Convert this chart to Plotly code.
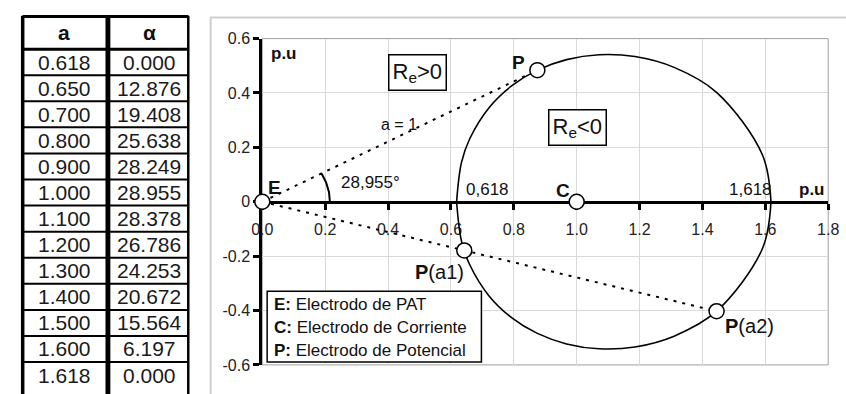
import numpy as np
import plotly.graph_objects as go

# ---- data: potential-electrode locus (a in p.u., alpha in degrees) ----
a_vals = [0.618, 0.650, 0.700, 0.800, 0.900, 1.000, 1.100, 1.200,
          1.300, 1.400, 1.500, 1.600, 1.618]
alpha_deg = [0.000, 12.876, 19.408, 25.638, 28.249, 28.955, 28.378,
             26.786, 24.253, 20.672, 15.564, 6.197, 0.000]
table_headers = ["a", "α"]

# special electrode positions
E_point = (0.0, 0.0)
C_point = (1.0, 0.0)
P_a, P_alpha = 1.000, 28.955          # P on the a = 1 ray
Pa2_a, Pa2_alpha = 1.500, -15.564     # P(a2)
Pa1_a, Pa1_alpha = 0.667, -15.564     # P(a1), same ray as P(a2)

x_tickvals = [0.0, 0.2, 0.4, 0.6, 0.8, 1.0, 1.2, 1.4, 1.6, 1.8]
x_ticktext = ["0.0", "0.2", "0.4", "0.6", "0.8", "1.0", "1.2", "1.4", "1.6", "1.8"]
y_tickvals = [-0.6, -0.4, -0.2, 0.0, 0.2, 0.4, 0.6]
y_ticktext = ["-0.6", "-0.4", "-0.2", "0", "0.2", "0.4", "0.6"]

FONT = "Arial, Liberation Sans, sans-serif"
W, H = 846, 394


def polar(a, deg):
    t = np.radians(deg)
    return a * np.cos(t), a * np.sin(t)


def pxx(x):  # pixel -> paper x
    return x / W


def pxy(y):  # pixel (from top) -> paper y
    return 1 - y / H


ux, uy = polar(np.array(a_vals), np.array(alpha_deg))
px_, py_ = polar(P_a, P_alpha)
p2x, p2y = polar(Pa2_a, Pa2_alpha)
p1x, p1y = polar(Pa1_a, Pa1_alpha)

fig = go.Figure()

# ---- locus curve (upper and mirrored lower half) ----
fig.add_trace(go.Scatter(x=ux, y=uy, mode="lines",
                         line=dict(color="black", width=1.6, shape="spline"),
                         hoverinfo="skip"))
fig.add_trace(go.Scatter(x=ux, y=-uy, mode="lines",
                         line=dict(color="black", width=1.6, shape="spline"),
                         hoverinfo="skip"))

# ---- dotted rays from E ----
dot = dict(color="black", width=2, dash="3px,6px")
fig.add_trace(go.Scatter(x=[E_point[0], px_], y=[E_point[1], py_], mode="lines",
                         line=dot, hoverinfo="skip"))
fig.add_trace(go.Scatter(x=[E_point[0], p2x], y=[E_point[1], p2y], mode="lines",
                         line=dot, hoverinfo="skip"))

# ---- angle arc for alpha at a = 1 ----
t = np.radians(np.linspace(0, P_alpha, 30))
r_arc = 0.215
fig.add_trace(go.Scatter(x=r_arc * np.cos(t), y=r_arc * np.sin(t), mode="lines",
                         line=dict(color="black", width=2), hoverinfo="skip"))

# ---- electrode markers ----
fig.add_trace(go.Scatter(
    x=[E_point[0], C_point[0], px_, p1x, p2x],
    y=[E_point[1], C_point[1], py_, p1y, p2y],
    mode="markers", cliponaxis=False,
    marker=dict(size=15, color="white", line=dict(color="black", width=1.5)),
    hoverinfo="skip"))

# ---- text annotations on the chart ----
ann = []
shapes = []


def txt(x, y, text, size=16, xanchor="center", yanchor="middle", **kw):
    ann.append(dict(x=x, y=y, xref="x", yref="y", text=text, showarrow=False,
                    xanchor=xanchor, yanchor=yanchor,
                    font=dict(family=FONT, size=size, color="#111"), **kw))


txt(0.02, 0.547, "<b>p.u</b>", size=17, xanchor="left")
txt(0.013, 0.051, "<b>E</b>", size=19, xanchor="left")
txt(0.243, 0.069, "28,955°", size=17, xanchor="left")
txt(0.372, 0.283, "a = 1", size=16, xanchor="left")
txt(0.843, 0.512, "<b>P</b>", size=19, xanchor="right")
txt(0.641, 0.044, "0,618", size=17, xanchor="left")
txt(0.928, 0.042, "<b>C</b>", size=19, xanchor="left")
txt(1.477, 0.044, "1,618", size=17, xanchor="left")
txt(1.700, 0.044, "<b>p.u</b>", size=17, xanchor="left")
txt(0.649, -0.259, "<b>P</b>(a1)", size=20, xanchor="right")
txt(1.466, -0.456, "<b>P</b>(a2)", size=20, xanchor="left")
txt(0.494, 0.477, "R<sub>e</sub>>0", size=22, bgcolor="white",
    bordercolor="black", borderwidth=1.5, borderpad=3)
txt(1.004, 0.273, "R<sub>e</sub><0", size=22, bgcolor="white",
    bordercolor="black", borderwidth=1.5, borderpad=3)

legend_lines = ["<b>E:</b> Electrodo de PAT",
                "<b>C:</b> Electrodo de Corriente",
                "<b>P:</b> Electrodo de Potencial"]
legend_y = [-0.378, -0.463, -0.547]
for s, yy in zip(legend_lines, legend_y):
    txt(0.031, yy, s, size=17, xanchor="left")

# ---- a / alpha table drawn as a text grid ----
TBL_LEFT, TBL_DIV0, TBL_DIV1, TBL_RIGHT = 12, 97, 102, 182
TBL_TOP, HEAD_BOTTOM, ROW_H = 9, 43, 27.25
col_centers = [(TBL_LEFT + TBL_DIV0) / 2, (TBL_DIV1 + TBL_RIGHT) / 2]
columns = [[f"{v:.3f}" for v in a_vals], [f"{v:.3f}" for v in alpha_deg]]

for cx, head, col in zip(col_centers, table_headers, columns):
    ann.append(dict(x=pxx(cx), y=pxy((TBL_TOP + HEAD_BOTTOM) / 2), xref="paper",
                    yref="paper", text=f"<b>{head}</b>", showarrow=False,
                    xanchor="center", yanchor="middle",
                    font=dict(family=FONT, size=21, color="#111")))
    for i, s in enumerate(col):
        ann.append(dict(x=pxx(cx), y=pxy(HEAD_BOTTOM + ROW_H * (i + 0.5)),
                        xref="paper", yref="paper", text=s, showarrow=False,
                        xanchor="center", yanchor="middle",
                        font=dict(family=FONT, size=21, color="#1a1a1a")))

# horizontal rules: top, header bottom, then one per row
rules = [(TBL_TOP, 3), (HEAD_BOTTOM, 3)] + \
        [(HEAD_BOTTOM + ROW_H * (k + 1), 2) for k in range(len(a_vals) - 1)]
for yy, w in rules:
    shapes.append(dict(type="line", xref="paper", yref="paper",
                       x0=pxx(TBL_LEFT), x1=pxx(TBL_RIGHT), y0=pxy(yy), y1=pxy(yy),
                       line=dict(color="black", width=w)))
# vertical rules: outer borders and heavy column divider
shapes.append(dict(type="line", xref="paper", yref="paper", x0=pxx(TBL_LEFT),
                   x1=pxx(TBL_LEFT), y0=pxy(TBL_TOP - 1), y1=-0.05,
                   line=dict(color="black", width=3.5)))
shapes.append(dict(type="line", xref="paper", yref="paper", x0=pxx(TBL_RIGHT),
                   x1=pxx(TBL_RIGHT), y0=pxy(TBL_TOP - 1), y1=-0.05,
                   line=dict(color="black", width=2.5)))
shapes.append(dict(type="rect", xref="paper", yref="paper", x0=pxx(TBL_DIV0),
                   x1=pxx(TBL_DIV1), y0=-0.05, y1=pxy(TBL_TOP - 1),
                   line=dict(width=0), fillcolor="black"))

shapes += [
    # outer chart frame
    dict(type="rect", xref="paper", yref="paper", x0=205 / W, x1=1.2,
         y0=-0.2, y1=(H - 10) / H, line=dict(color="#cfcfcf", width=2),
         layer="below"),
    # plot-area border
    dict(type="rect", xref="x domain", yref="y domain", x0=0, x1=1, y0=0, y1=1,
         line=dict(color="#a0a0a0", width=1), layer="below"),
    # legend box
    dict(type="rect", xref="x", yref="y", x0=0.0155, x1=0.697, y0=-0.589,
         y1=-0.329, line=dict(color="black", width=1.5), fillcolor="white",
         layer="above"),
]

fig.update_layout(
    width=W, height=H, margin=dict(l=0, r=0, t=0, b=0),
    paper_bgcolor="white", plot_bgcolor="white", showlegend=False,
    font=dict(family=FONT, size=16, color="#222"),
    xaxis=dict(domain=[258 / W, 839 / W], range=[0, 1.8], anchor="free",
               position=(21 / H + 362 / H) / 2,
               showline=True, linecolor="black", linewidth=3,
               ticks="outside", ticklen=6, tickwidth=3, tickcolor="black",
               tickvals=x_tickvals, ticktext=x_ticktext,
               tickfont=dict(size=16, color="#222"), ticklabelstandoff=6,
               ticklabeloverflow="allow",
               showgrid=True, gridcolor="#d9d9d9", gridwidth=1,
               zeroline=False, layer="below traces", fixedrange=True),
    yaxis=dict(domain=[21 / H, 362 / H], range=[-0.6, 0.6], anchor="x",
               showline=True, linecolor="black", linewidth=3,
               ticks="outside", ticklen=6, tickwidth=3, tickcolor="black",
               tickvals=y_tickvals, ticktext=y_ticktext,
               tickfont=dict(size=16, color="#222"),
               showgrid=True, gridcolor="#d9d9d9", gridwidth=1,
               zeroline=False, layer="below traces", fixedrange=True),
    annotations=ann, shapes=shapes,
)

fig.write_html("out.html", config={"displayModeBar": False})
